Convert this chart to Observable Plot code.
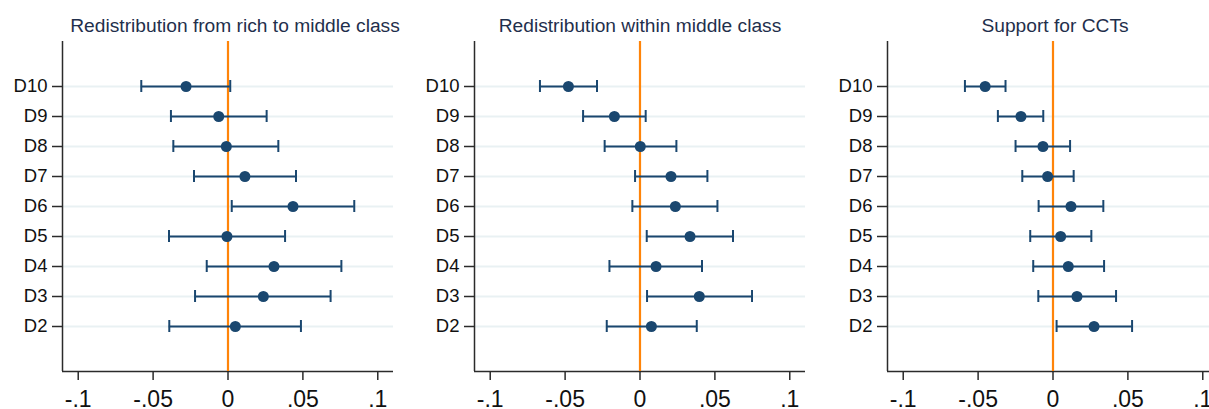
<!DOCTYPE html>
<html>
<head>
<meta charset="utf-8">
<script src="https://cdn.jsdelivr.net/npm/d3@7"></script>
<script src="https://cdn.jsdelivr.net/npm/@observablehq/plot@0.6"></script>
<style>
  html, body { margin: 0; padding: 0; background: #fff; overflow: hidden; }
  #wrap { position: relative; width: 1209px; height: 409px; overflow: hidden; }
  .panel { position: absolute; top: 0; width: 412px; height: 409px; }
  .panel svg { max-width: none !important; }
</style>
</head>
<body>
<div id="wrap"></div>
<script>
// ---- Data ----
const deciles = ["D10", "D9", "D8", "D7", "D6", "D5", "D4", "D3", "D2"];
const decileNums = [10, 9, 8, 7, 6, 5, 4, 3, 2];

const titles = ["Redistribution from rich to middle class", "Redistribution within middle class", "Support for CCTs"];

const richEst = [-0.0280, -0.0062, -0.0011, 0.0113, 0.0434, -0.0007, 0.0307, 0.0236, 0.0049];
const richLo  = [-0.0579, -0.0381, -0.0365, -0.0227, 0.0025, -0.0394, -0.0142, -0.0220, -0.0392];
const richHi  = [0.0015, 0.0258, 0.0336, 0.0454, 0.0843, 0.0381, 0.0757, 0.0685, 0.0487];

const withinEst = [-0.0478, -0.0171, 0.0002, 0.0207, 0.0236, 0.0334, 0.0107, 0.0396, 0.0076];
const withinLo  = [-0.0668, -0.0380, -0.0236, -0.0033, -0.0051, 0.0045, -0.0204, 0.0047, -0.0222];
const withinHi  = [-0.0287, 0.0038, 0.0243, 0.0450, 0.0517, 0.0621, 0.0414, 0.0748, 0.0379];

const cctEst = [-0.0453, -0.0214, -0.0067, -0.0036, 0.0120, 0.0051, 0.0102, 0.0160, 0.0274];
const cctLo  = [-0.0588, -0.0368, -0.0250, -0.0205, -0.0096, -0.0152, -0.0132, -0.0098, 0.0024];
const cctHi  = [-0.0317, -0.0065, 0.0114, 0.0138, 0.0336, 0.0256, 0.0341, 0.0421, 0.0528];

const xTicks = [-0.1, -0.05, 0, 0.05, 0.1];
const xTickLabels = ["-.1", "-.05", "0", ".05", ".1"];
const xDomain = [-0.1105, 0.1105];
const yDomain = [0.5, 11.5];

const series = [
  {est: richEst, lo: richLo, hi: richHi},
  {est: withinEst, lo: withinLo, hi: withinHi},
  {est: cctEst, lo: cctLo, hi: cctHi}
];

// ---- Styles ----
const NAVY = "#1a476f";
const ORANGE = "#ff8409";
const GRID = "#e9f1f3";
const AXIS = "#2b2b2b";
const FONT = "'Liberation Sans', Arial, Helvetica, sans-serif";
const panelLefts = [0, 412, 824.5];
const titleDx = [7, 0, 2];

const wrap = document.getElementById("wrap");

series.forEach((s, k) => {
  const rows = deciles.map((d, i) => ({
    label: d, num: decileNums[i], est: s.est[i], lo: s.lo[i], hi: s.hi[i]
  }));

  const chart = Plot.plot({
    width: 412,
    height: 409,
    marginLeft: 62,
    marginRight: 19,
    marginTop: 41,
    marginBottom: 38,
    style: {fontFamily: FONT, background: "transparent", overflow: "visible"},
    x: {type: "linear", domain: xDomain},
    y: {type: "linear", domain: yDomain},
    marks: [
      // horizontal grid lines at each decile
      Plot.ruleY(rows, {y: "num", stroke: GRID, strokeWidth: 2}),
      // axis lines (left and bottom)
      Plot.ruleX([xDomain[0]], {stroke: AXIS, strokeWidth: 1.5}),
      Plot.ruleY([yDomain[0]], {stroke: AXIS, strokeWidth: 1.5}),
      // zero reference line
      Plot.ruleX([0], {stroke: ORANGE, strokeWidth: 2.2}),
      // confidence intervals
      Plot.ruleY(rows, {y: "num", x1: "lo", x2: "hi", stroke: NAVY, strokeWidth: 2}),
      Plot.ruleX(rows, {x: "lo", y1: "num", y2: "num", stroke: NAVY, strokeWidth: 2, insetTop: -6, insetBottom: -6}),
      Plot.ruleX(rows, {x: "hi", y1: "num", y2: "num", stroke: NAVY, strokeWidth: 2, insetTop: -6, insetBottom: -6}),
      // point estimates
      Plot.dot(rows, {x: "est", y: "num", r: 5.5, fill: NAVY, stroke: null}),
      // axes
      Plot.axisY({
        ticks: decileNums,
        tickFormat: (d) => deciles[decileNums.indexOf(d)],
        tickSize: 10,
        tickPadding: 5,
        fontSize: 18.5,
        fill: "#111",
        stroke: AXIS,
        strokeWidth: 1.5,
        label: null
      }),
      Plot.axisX({
        ticks: xTicks,
        tickFormat: (d) => xTickLabels[xTicks.findIndex((t) => Math.abs(t - d) < 1e-9)],
        tickSize: 9,
        tickPadding: 10,
        fontSize: 23,
        fill: "#111",
        stroke: AXIS,
        strokeWidth: 1.5,
        label: null
      }),
      // panel title
      Plot.text([titles[k]], {
        frameAnchor: "top",
        dy: -10,
        dx: titleDx[k],
        lineAnchor: "bottom",
        fontSize: 19.2,
        fill: "#1f2f4c",
        text: (d) => d
      })
    ]
  });

  const div = document.createElement("div");
  div.className = "panel";
  div.style.left = panelLefts[k] + "px";
  div.appendChild(chart);
  wrap.appendChild(div);
});
</script>
</body>
</html>
